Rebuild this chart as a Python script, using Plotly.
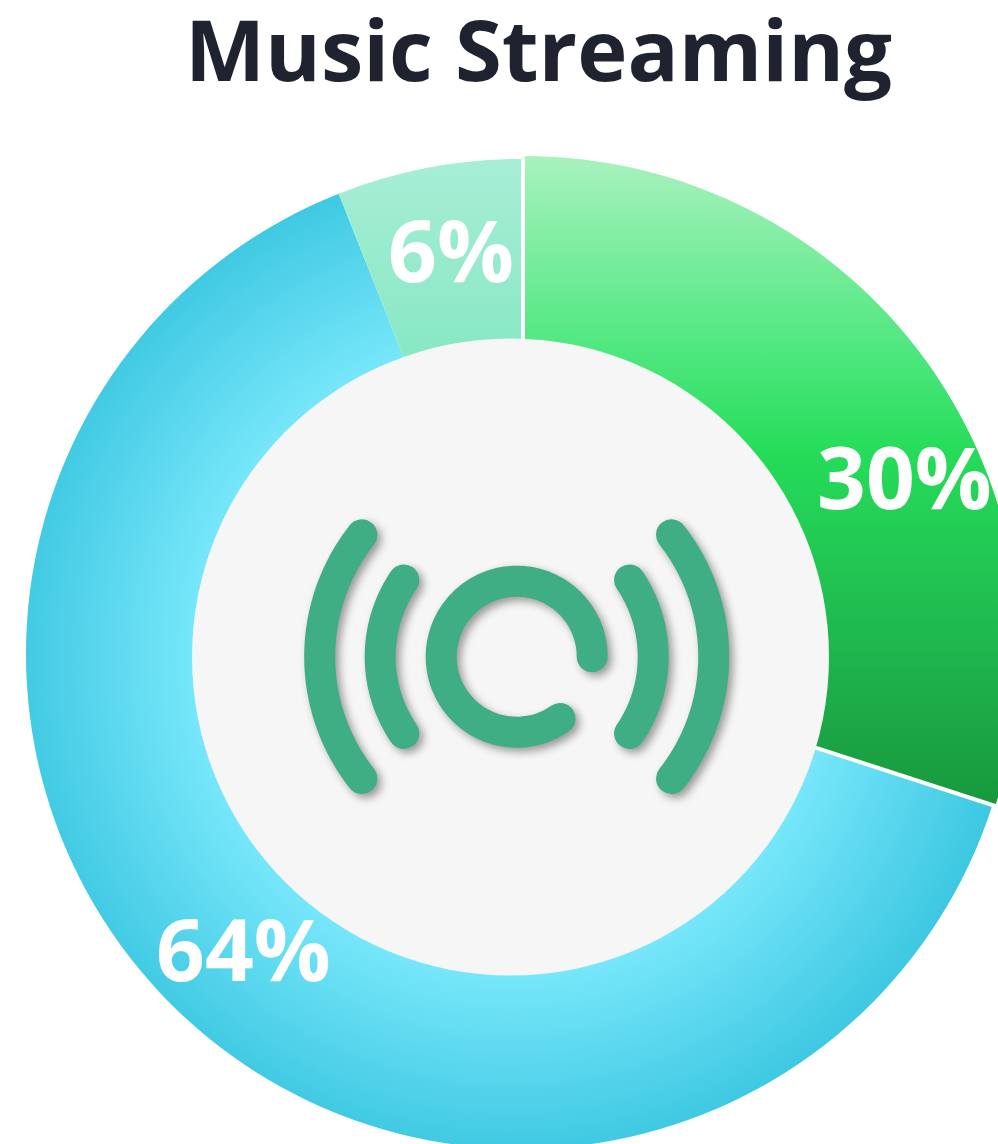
import numpy as np
import plotly.graph_objects as go

# Share of listening by service type, clockwise from 12 o'clock
segments = ["Green", "Blue", "Mint"]
shares = [30, 64, 6]
pulls = [0.01, 0, 0]
label_centres = [(904, 475.5), (243, 948), (451, 249)]

TITLE = "Music Streaming"
INK = "#1f2330"
ICON = "#3fae85"
DISC = "#f6f6f6"

# The canvas is a little larger than the window so the ring runs off the right and bottom edges
W, H = 1040, 1170
PIE_CX, PIE_CY, PIE_SIZE = 521, 654, 1000
DISC_CX, DISC_CY, DISC_R = 510.5, 657, 318.5
ICON_CX, ICON_CY = 516.7, 656.7


def px(x):
    return x / W


def py(y):
    return 1 - y / H


def arc_path(r, start_deg, end_deg):
    """Polyline in paper units; angles are degrees clockwise from east on screen."""
    t = np.radians(np.linspace(start_deg, end_deg, 90))
    xs = px(ICON_CX + r * np.cos(t))
    ys = py(ICON_CY + r * np.sin(t))
    return "M" + "L".join(f"{a:.5f},{b:.5f}" for a, b in zip(xs, ys))


# radius, start angle, end angle of each stroke of the broadcast icon
icon_arcs = [
    (75.5, 55, 360),
    (136.5, 145.8, 214.2),
    (136.5, -34.2, 34.2),
    (197, 141.8, 218.2),
    (197, -38.2, 38.2),
]

fig = go.Figure(
    go.Pie(
        labels=segments,
        values=shares,
        pull=pulls,
        sort=False,
        direction="clockwise",
        rotation=0,
        hole=0.6,
        textinfo="none",
        hoverinfo="skip",
        marker=dict(colors=["#22dc58", "#5cdcf2", "#98ead0"], line=dict(width=0)),
        domain=dict(
            x=[px(PIE_CX - PIE_SIZE / 2), px(PIE_CX + PIE_SIZE / 2)],
            y=[py(PIE_CY + PIE_SIZE / 2), py(PIE_CY - PIE_SIZE / 2)],
        ),
    )
)

shapes = [
    dict(
        type="circle",
        xref="paper",
        yref="paper",
        x0=px(DISC_CX - DISC_R),
        x1=px(DISC_CX + DISC_R),
        y0=py(DISC_CY + DISC_R),
        y1=py(DISC_CY - DISC_R),
        fillcolor=DISC,
        line=dict(width=0),
        layer="above",
    )
]
for r, a0, a1 in icon_arcs:
    shapes.append(
        dict(
            type="path",
            xref="paper",
            yref="paper",
            path=arc_path(r, a0, a1),
            line=dict(color=ICON, width=31),
            layer="above",
        )
    )

annotations = [
    dict(
        text=f"{value}%",
        x=px(cx),
        y=py(cy),
        xref="paper",
        yref="paper",
        xanchor="center",
        yanchor="middle",
        showarrow=False,
        font=dict(family="Open Sans", size=85.5, color="white", weight=700),
    )
    for value, (cx, cy) in zip(shares, label_centres)
]

fig.update_layout(
    width=W,
    height=H,
    margin=dict(l=0, r=0, t=0, b=0),
    autosize=False,
    showlegend=False,
    paper_bgcolor="white",
    plot_bgcolor="white",
    title=dict(
        text=TITLE,
        x=px(538.5),
        xanchor="center",
        y=py(51.5),
        yanchor="middle",
        font=dict(family="Open Sans", size=85, color=INK, weight=700),
    ),
    shapes=shapes,
    annotations=annotations,
)

# Gradient fills for the slices, rounded stroke ends and soft shadows on the icon
post_script = """
document.documentElement.style.overflow = 'hidden';
document.body.style.overflow = 'hidden';
var svg = document.querySelector('svg.main-svg');
var NS = 'http://www.w3.org/2000/svg';
var defs = document.createElementNS(NS, 'defs');
function stops(g, list) {
  list.forEach(function (s) {
    var e = document.createElementNS(NS, 'stop');
    e.setAttribute('offset', s[0]);
    e.setAttribute('stop-color', s[1]);
    g.appendChild(e);
  });
}
function linear(id, y0, y1, list) {
  var g = document.createElementNS(NS, 'linearGradient');
  g.setAttribute('id', id);
  g.setAttribute('gradientUnits', 'userSpaceOnUse');
  g.setAttribute('x1', 0); g.setAttribute('x2', 0);
  g.setAttribute('y1', y0); g.setAttribute('y2', y1);
  stops(g, list);
  defs.appendChild(g);
}
linear('fillGreen', 155, 805, [[0, '#a9f2bf'], [0.3, '#4fe77f'], [0.46, '#25dc59'], [0.75, '#1fb74e'], [1, '#18983d']]);
linear('fillMint', 158, 356, [[0, '#a8eed6'], [1, '#88e8c4']]);
var rad = document.createElementNS(NS, 'radialGradient');
rad.setAttribute('id', 'fillBlue');
rad.setAttribute('gradientUnits', 'userSpaceOnUse');
rad.setAttribute('cx', 511); rad.setAttribute('cy', 657); rad.setAttribute('r', 500);
stops(rad, [[0, '#7ae8fb'], [0.64, '#76e6fa'], [1, '#3ec8e2']]);
defs.appendChild(rad);
svg.insertBefore(defs, svg.firstChild);
var fills = ['fillGreen', 'fillBlue', 'fillMint'];
document.querySelectorAll('.pielayer .slice path.surface').forEach(function (p, i) {
  p.style.fill = 'url(#' + fills[i] + ')';
});
document.querySelectorAll('.shapelayer path').forEach(function (p) {
  if (p.getAttribute('data-index') !== '0') {
    p.style.strokeLinecap = 'round';
    p.style.strokeLinejoin = 'round';
    p.style.filter = 'drop-shadow(4px 4px 4px rgba(0,0,0,0.38))';
  }
});
"""

fig.write_html("out.html", post_script=post_script, config=dict(displayModeBar=False))
